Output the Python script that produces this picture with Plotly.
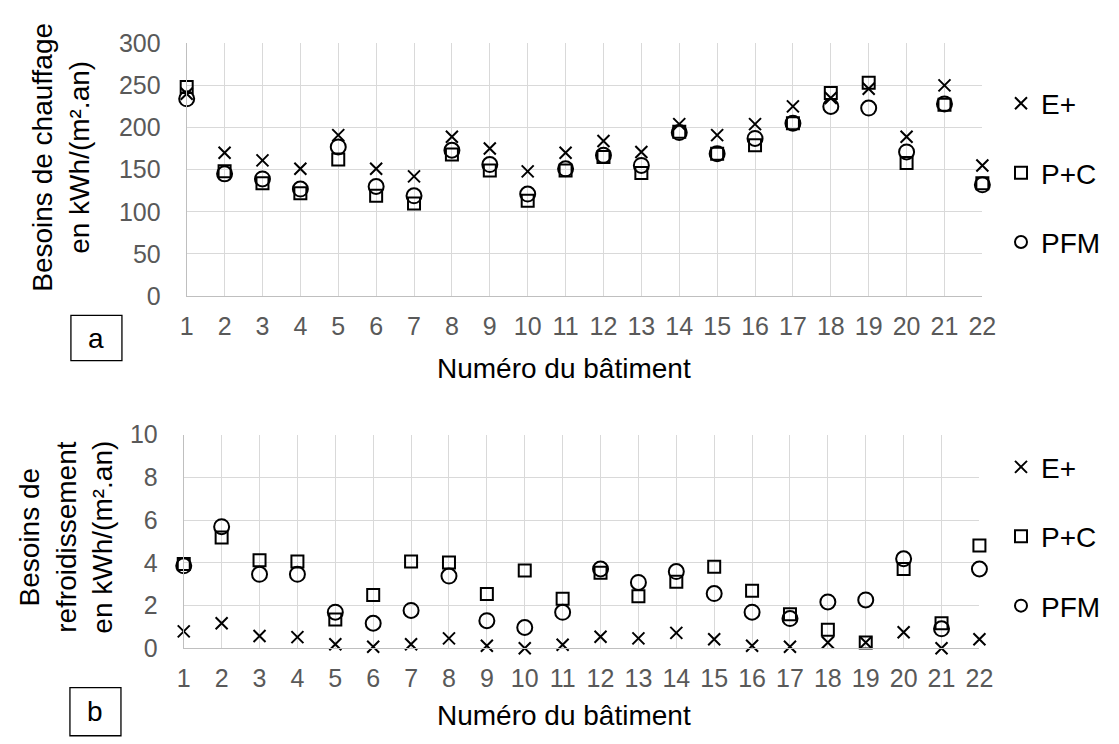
import plotly.graph_objects as go

# ---- data ----
buildings = list(range(1, 23))

heat_E = [240, 170, 161, 151, 191, 151, 142, 189, 175, 148, 170, 184, 171, 204, 191, 204, 225, 235, 246, 189, 250, 155]
heat_PC = [248, 148, 134, 122, 162, 119, 110, 168, 149, 113, 149, 165, 146, 195, 169, 179, 205, 241, 253, 158, 227, 134]
heat_PFM = [234, 145, 139, 127, 177, 130, 119, 173, 156, 121, 151, 167, 155, 194, 169, 187, 205, 225, 223, 171, 228, 132]

cool_E = [0.79, 1.17, 0.57, 0.52, 0.19, 0.07, 0.19, 0.46, 0.12, 0.0, 0.16, 0.54, 0.46, 0.72, 0.42, 0.12, 0.07, 0.27, 0.27, 0.75, 0.0, 0.42]
cool_PC = [3.94, 5.18, 4.12, 4.06, 1.35, 2.49, 4.06, 4.01, 2.54, 3.64, 2.32, 3.53, 2.44, 3.11, 3.82, 2.69, 1.59, 0.87, 0.27, 3.71, 1.17, 4.81]
cool_PFM = [3.86, 5.69, 3.46, 3.46, 1.69, 1.17, 1.77, 3.38, 1.29, 0.97, 1.68, 3.71, 3.08, 3.59, 2.56, 1.69, 1.39, 2.17, 2.26, 4.19, 0.91, 3.71]

series_names = ["E+", "P+C", "PFM"]
x_title = "Numéro du bâtiment"
y_title_top = "Besoins de chauffage<br>en kWh/(m².an)"
y_title_bot = "Besoins de<br>refroidissement<br>en kWh/(m².an)"

# ---- layout constants (pixels in the browser window) ----
OFF = 8  # default page body margin
W, H = 1119 - OFF, 744 - OFF
FONT = "Liberation Sans, Arial, sans-serif"
TICK_COLOR = "#595959"
GRID = "#d9d9d9"
AXIS = "#bfbfbf"


def px_x(p):
    return (p - OFF) / W


def px_y(p):
    return 1 - (p - OFF) / H


symbols = ["x-thin-open", "square-open", "circle-open"]
sizes = [12, 12, 15]

fig = go.Figure()

top_series = [heat_E, heat_PC, heat_PFM]
bot_series = [cool_E, cool_PC, cool_PFM]

for i, (name, vals) in enumerate(zip(series_names, top_series)):
    fig.add_trace(go.Scatter(
        x=buildings, y=vals, mode="markers", name=name,
        xaxis="x", yaxis="y", legend="legend", legendgroup="t" + name,
        cliponaxis=False,
        marker=dict(symbol=symbols[i], size=sizes[i], color="black",
                    line=dict(color="black", width=2)),
    ))

for i, (name, vals) in enumerate(zip(series_names, bot_series)):
    fig.add_trace(go.Scatter(
        x=buildings, y=vals, mode="markers", name=name,
        xaxis="x2", yaxis="y2", legend="legend2", legendgroup="b" + name,
        cliponaxis=False,
        marker=dict(symbol=symbols[i], size=sizes[i], color="black",
                    line=dict(color="black", width=2)),
    ))

xaxis_common = dict(
    range=[1, 22], tickmode="array", tickvals=buildings,
    ticktext=[str(b) for b in buildings],
    showgrid=True, gridcolor=GRID, gridwidth=1,
    showline=True, linecolor=AXIS, linewidth=1,
    zeroline=False, ticks="", ticklabelstandoff=8,
    tickfont=dict(family=FONT, size=25, color=TICK_COLOR),
    fixedrange=True,
)
yaxis_common = dict(
    showgrid=True, gridcolor=GRID, gridwidth=1,
    showline=True, linecolor=AXIS, linewidth=1,
    zeroline=False, ticks="", ticklabelstandoff=20,
    tickfont=dict(family=FONT, size=25, color=TICK_COLOR),
    fixedrange=True,
)

legend_common = dict(
    font=dict(family=FONT, size=28, color="black"),
    bgcolor="rgba(0,0,0,0)", borderwidth=0,
    itemsizing="constant", itemwidth=30,
    tracegroupgap=30, traceorder="grouped",
    xanchor="left", yanchor="middle",
)

fig.update_layout(
    width=W, height=H,
    margin=dict(l=0, r=0, t=0, b=0),
    paper_bgcolor="white", plot_bgcolor="white",
    font=dict(family=FONT, color="black"),
    showlegend=True,
    xaxis=dict(domain=[px_x(183), px_x(994)], anchor="y", **xaxis_common),
    yaxis=dict(domain=[px_y(293), px_y(30)], anchor="x", range=[0, 300], dtick=50,
               **yaxis_common),
    xaxis2=dict(domain=[px_x(180), px_x(991)], anchor="y2", **xaxis_common),
    yaxis2=dict(domain=[px_y(659), px_y(437)], anchor="x2", range=[0, 10], dtick=2,
                **yaxis_common),
    legend=dict(x=px_x(1013), y=px_y(165), **legend_common),
    legend2=dict(x=px_x(1013), y=px_y(543), **legend_common),
)

annots = [
    dict(text=x_title, x=px_x(568), y=px_y(368)),
    dict(text=x_title, x=px_x(568), y=px_y(729)),
    dict(text=y_title_top, x=px_x(55), y=px_y(149), textangle=-90),
    dict(text=y_title_bot, x=px_x(60), y=px_y(544), textangle=-90),
    dict(text="a", x=px_x(91), y=px_y(337)),
    dict(text="b", x=px_x(90), y=px_y(725)),
]
for a in annots:
    fig.add_annotation(xref="paper", yref="paper", showarrow=False,
                       xanchor="center", yanchor="middle",
                       font=dict(family=FONT, size=28, color="black"), **a)

fig.add_shape(type="rect", xref="paper", yref="paper",
              x0=px_x(65), x1=px_x(117), y0=px_y(360), y1=px_y(313),
              line=dict(color="black", width=1.3), fillcolor="white", layer="below")
fig.add_shape(type="rect", xref="paper", yref="paper",
              x0=px_x(64), x1=px_x(116), y0=px_y(750), y1=px_y(700),
              line=dict(color="black", width=1.3), fillcolor="white", layer="below")

fig.write_html("out.html")
